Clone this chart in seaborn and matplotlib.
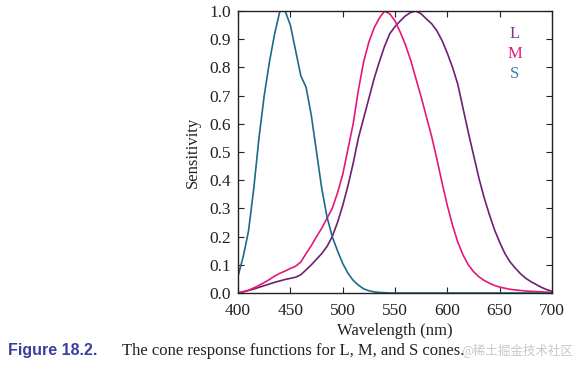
import numpy as np
import pandas as pd
import seaborn as sns
import matplotlib
matplotlib.use('Agg')
import matplotlib.pyplot as plt

# wavelengths (nm), 5 nm steps
wavelength = list(range(400, 705, 5))

s_cone = [0.06, 0.13, 0.22, 0.37, 0.55, 0.70, 0.82, 0.92, 1.00, 1.00,
          0.95, 0.86, 0.77, 0.73, 0.63, 0.50, 0.37, 0.27, 0.20, 0.15,
          0.105, 0.07, 0.045, 0.028, 0.015, 0.008, 0.004, 0.002, 0.001, 0.0,
          0.0, 0.0, 0.0, 0.0, 0.0, 0.0, 0.0, 0.0, 0.0, 0.0,
          0.0, 0.0, 0.0, 0.0, 0.0, 0.0, 0.0, 0.0, 0.0, 0.0,
          0.0, 0.0, 0.0, 0.0, 0.0, 0.0, 0.0, 0.0, 0.0, 0.0, 0.0]

m_cone = [0.0, 0.005, 0.01, 0.018, 0.027, 0.037, 0.048, 0.06, 0.07, 0.078,
          0.087, 0.095, 0.11, 0.14, 0.168, 0.20, 0.23, 0.265, 0.30, 0.355,
          0.42, 0.51, 0.60, 0.72, 0.82, 0.89, 0.94, 0.975, 1.0, 0.99,
          0.965, 0.925, 0.88, 0.825, 0.76, 0.695, 0.625, 0.555, 0.475, 0.39,
          0.31, 0.24, 0.18, 0.135, 0.10, 0.076, 0.058, 0.045, 0.035, 0.027,
          0.021, 0.017, 0.013, 0.011, 0.009, 0.007, 0.006, 0.005, 0.004, 0.003, 0.002]

l_cone = [0.0, 0.004, 0.009, 0.014, 0.02, 0.026, 0.032, 0.038, 0.043, 0.048,
          0.052, 0.056, 0.065, 0.082, 0.10, 0.12, 0.14, 0.165, 0.20, 0.25,
          0.31, 0.38, 0.46, 0.55, 0.62, 0.69, 0.76, 0.82, 0.875, 0.92,
          0.945, 0.965, 0.983, 0.995, 1.0, 0.99, 0.972, 0.955, 0.93, 0.895,
          0.85, 0.80, 0.74, 0.655, 0.57, 0.49, 0.41, 0.34, 0.28, 0.225,
          0.18, 0.14, 0.11, 0.088, 0.068, 0.052, 0.04, 0.03, 0.02, 0.012, 0.006]

cones = ["L", "M", "S"]
colors = {"L": "#6c2170", "M": "#e6177c", "S": "#1b6a8a"}
label_colors = {"L": "#7a3a86", "M": "#e6177c", "S": "#3b7ca6"}

df = pd.concat([
    pd.DataFrame({"Wavelength": wavelength, "Sensitivity": l_cone, "cone": "L"}),
    pd.DataFrame({"Wavelength": wavelength, "Sensitivity": m_cone, "cone": "M"}),
    pd.DataFrame({"Wavelength": wavelength, "Sensitivity": s_cone, "cone": "S"}),
])

sns.set_style("ticks")
plt.rcParams['font.family'] = ['Liberation Serif', 'DejaVu Serif']

fig = plt.figure(figsize=(5.75, 3.71), dpi=100)
ax = fig.add_axes([0.414, 0.2102, 0.546, 0.760])

sns.lineplot(data=df, x="Wavelength", y="Sensitivity", hue="cone",
             palette=colors, linewidth=1.2, legend=False, ax=ax)

ax.set_xlim(400, 700)
ax.set_ylim(0, 1.0)
ax.set_xticks(np.arange(400, 701, 50))
ax.set_yticks(np.arange(0, 1.01, 0.1))
ax.set_yticklabels([f"{v:.1f}" for v in np.arange(0, 1.01, 0.1)])
ax.tick_params(direction="in", top=True, right=True, length=4, width=0.8,
               labelsize=12.5, colors="#222222")
ax.tick_params(axis="x", pad=7)
ax.tick_params(axis="y", pad=5)
for sp in ax.spines.values():
    sp.set_linewidth(1.0)
    sp.set_color("#222222")
ax.set_xlabel("Wavelength (nm)", fontsize=12, color="#222222", labelpad=3)
ax.set_ylabel("Sensitivity", fontsize=12, color="#222222", labelpad=6)

# color-coded labels
for i, c in enumerate(cones):
    ax.text(0.882, 0.92 - i * 0.072, c, transform=ax.transAxes,
            color=label_colors[c], fontsize=12, ha="center", va="center")

# caption
fig.text(8 / 575, 1 - 351 / 371, "Figure 18.2.", family=['Liberation Sans', 'DejaVu Sans'],
         fontweight="bold", fontsize=11.5, color="#3b3f9e", va="center", ha="left")
fig.text(122 / 575, 1 - 351 / 371, "The cone response functions for L, M, and S cones.",
         fontsize=12, color="#222222", va="center", ha="left")
fig.text(573 / 575, 1 - 350 / 371, "@稀土掘金技术社区",
         family=['Noto Sans CJK SC', 'DejaVu Sans'], fontsize=9, color="#c8c8c8",
         va="center", ha="right")

fig.savefig("out.png", dpi=100)
